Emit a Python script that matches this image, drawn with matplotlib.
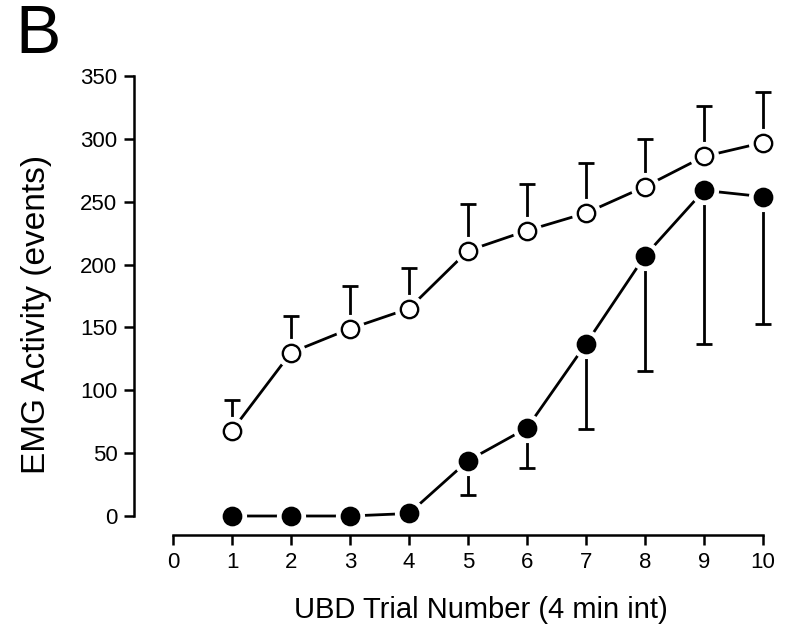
import matplotlib
matplotlib.use("Agg")
import matplotlib.pyplot as plt

plt.rcParams['font.family'] = ['Liberation Sans', 'DejaVu Sans']

# valeurs
trial = [1, 2, 3, 4, 5, 6, 7, 8, 9, 10]
open_mean = [68, 130, 149, 165, 211, 227, 241, 262, 286, 297]
open_err = [24, 29, 34, 32, 37, 37, 40, 38, 40, 40]
filled_mean = [0, 0, 0, 2, 44, 70, 137, 207, 259, 254]
filled_err = [0, 0, 0, 0, 27, 32, 68, 92, 122, 101]

fig = plt.figure(figsize=(7.93, 6.3), dpi=100)
ax = fig.add_axes([173 / 793, 1 - 516 / 630, 590 / 793, 440 / 630])

# barres d'erreur : vers le haut pour les cercles vides, vers le bas pour les pleins
ax.errorbar(trial, open_mean, yerr=[[0] * 10, open_err], fmt='none',
            ecolor='black', elinewidth=2, capsize=6, capthick=2, zorder=2, clip_on=False)
ax.errorbar(trial[4:], filled_mean[4:], yerr=[filled_err[4:], [0] * 6], fmt='none',
            ecolor='black', elinewidth=2, capsize=6, capthick=2, zorder=2, clip_on=False)

for mean, face in [(open_mean, 'white'), (filled_mean, 'black')]:
    ax.plot(trial, mean, color='black', lw=2, zorder=1, clip_on=False)
    # halo blanc pour couper la ligne autour des points
    ax.plot(trial, mean, 'o', ms=20, mfc='white', mec='white', zorder=3, clip_on=False)
    ax.plot(trial, mean, 'o', ms=12.5, mfc=face, mec='black', mew=1.7, zorder=4, clip_on=False)

ax.set_xlim(0, 10)
ax.set_ylim(0, 350)
ax.set_xticks(range(0, 11))
ax.set_yticks(range(0, 351, 50))

for s in ['top', 'right']:
    ax.spines[s].set_visible(False)
ax.spines['left'].set_position(('outward', 28))
ax.spines['bottom'].set_position(('outward', 14))
ax.spines['left'].set_bounds(0, 350)
ax.spines['bottom'].set_bounds(0, 10)
ax.spines['left'].set_linewidth(1.8)
ax.spines['bottom'].set_linewidth(1.8)
ax.tick_params(direction='out', length=7, width=1.8, labelsize=16, pad=5)

ax.set_xlabel("UBD Trial Number (4 min int)", fontsize=21)
ax.xaxis.set_label_coords(0.522, -0.182)
ax.set_ylabel("EMG Activity (events)", fontsize=24)
ax.yaxis.set_label_coords(-0.205, 0.457)

fig.text(0.02, 0.995, "B", fontsize=49, va='top', ha='left')

fig.savefig("out.png", dpi=100)
